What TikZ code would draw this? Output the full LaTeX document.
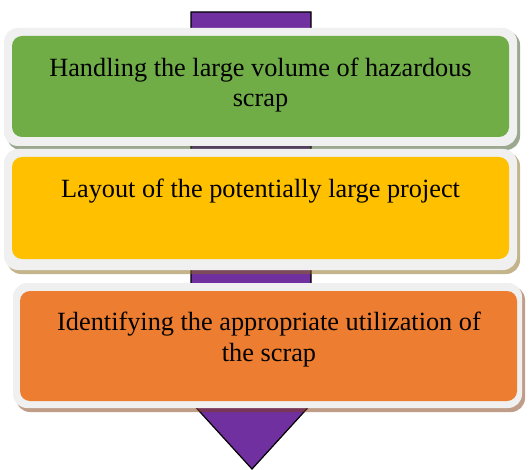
\documentclass[tikz,border=0pt]{standalone}
\usepackage{fontspec}
\setmainfont{Liberation Serif}
\definecolor{arrowpurple}{RGB}{112,48,160}
\definecolor{ringgray}{RGB}{240,240,240}
\definecolor{boxgreen}{RGB}{112,173,71}
\definecolor{boxyellow}{RGB}{255,192,0}
\definecolor{boxorange}{RGB}{237,125,49}
\definecolor{shgreen}{RGB}{55,81,31}
\definecolor{shyellow}{RGB}{137,105,25}
\definecolor{shorange}{RGB}{129,60,20}
\tikzset{
  ring/.style={fill=ringgray, draw=none, rounded corners=14pt, inner sep=0pt},
  innerbox/.style={draw=none, rounded corners=10pt, inner sep=0pt},
  shadowbox/.style={fill opacity=0.5, draw=none, rounded corners=14pt},
  label/.style={font=\fontsize{26.3}{30.5}\selectfont, align=center, anchor=base, inner sep=0pt, text=black},
}
\begin{document}
\begin{tikzpicture}[x=1pt,y=-1pt]
\useasboundingbox (0,0) rectangle (529,470);
% arrow
\draw[fill=arrowpurple, line width=1.2pt, line join=miter]
  (191,12) -- (311,12) -- (311,390) -- (324,390) -- (252,469) -- (180,390) -- (191,390) -- cycle;
% box 1
\fill[shadowbox, fill=shgreen] (7,31) rectangle (520,150);
\node[ring, minimum width=513pt, minimum height=118pt] (r1) at (260.5,87) {};
\node[innerbox, fill=boxgreen, minimum width=497pt, minimum height=101pt] (b1) at (260.5,86.5) {};
\node[label] (t1) at (260.5,107) {Handling the large volume of hazardous\\scrap};
% box 2
\fill[shadowbox, fill=shyellow] (7,152) rectangle (520,274);
\node[ring, minimum width=513pt, minimum height=121pt] (r2) at (260.5,209.5) {};
\node[innerbox, fill=boxyellow, minimum width=497pt, minimum height=102pt] (b2) at (260.5,208) {};
\node[label] (t2) at (260.5,197) {Layout of the potentially large project};
% box 3
\fill[shadowbox, fill=shorange] (16,286) rectangle (525,412);
\node[ring, minimum width=509pt, minimum height=125pt] (r3) at (267.5,345.5) {};
\node[innerbox, fill=boxorange, minimum width=497pt, minimum height=110pt] (b3) at (268.5,346) {};
\node[label] (t3) at (269,361) {Identifying the appropriate utilization of\\the scrap};
\end{tikzpicture}
\end{document}
